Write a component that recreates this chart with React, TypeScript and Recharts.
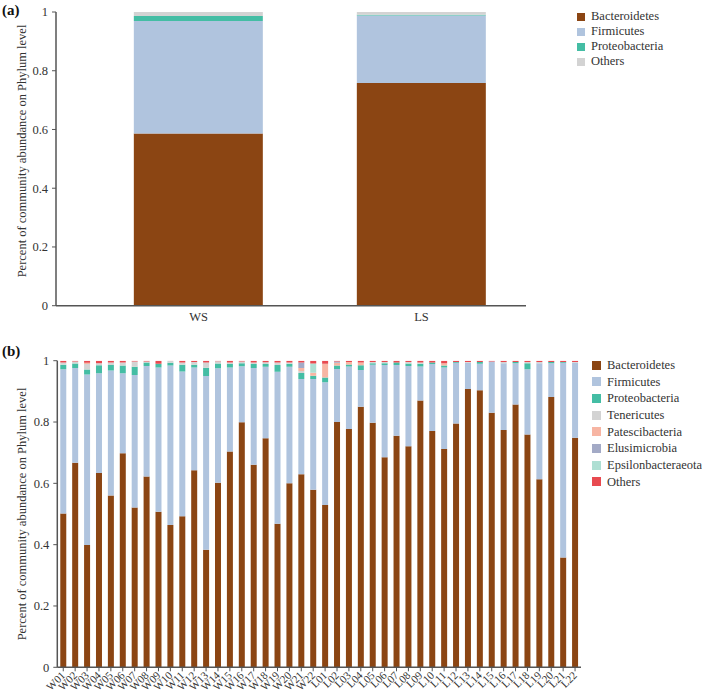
import { BarChart, Bar, XAxis, YAxis, Legend } from "recharts";

const FONT = '"Liberation Serif", Tinos, "Times New Roman", Times, "DejaVu Serif", serif';
const INK = "#333";
const AXIS = "#555";

// (a) season means
const seasons = ["WS", "LS"];
const seasonBacteroidetes = [0.586, 0.758];
const seasonFirmicutes = [0.383, 0.23];
const seasonProteobacteria = [0.017, 0.003];
const seasonOthers = [0.014, 0.009];

// (b) individual samples
const samples = [
  "W01", "W02", "W03", "W04", "W05", "W06", "W07", "W08", "W09", "W10", "W11",
  "W12", "W13", "W14", "W15", "W16", "W17", "W18", "W19", "W20", "W21", "W22",
  "L01", "L02", "L03", "L04", "L05", "L06", "L07", "L08", "L09", "L10", "L11",
  "L12", "L13", "L14", "L15", "L16", "L17", "L18", "L19", "L20", "L21", "L22",
];
const bacteroidetes = [
  0.502, 0.667, 0.399, 0.634, 0.56, 0.698, 0.521, 0.622, 0.507, 0.464, 0.493,
  0.643, 0.383, 0.602, 0.704, 0.799, 0.661, 0.747, 0.468, 0.6, 0.63, 0.579,
  0.529, 0.8, 0.777, 0.85, 0.798, 0.685, 0.755, 0.721, 0.87, 0.771, 0.712,
  0.795, 0.908, 0.904, 0.83, 0.774, 0.857, 0.759, 0.613, 0.882, 0.358, 0.749,
];
const firmicutes = [
  0.47, 0.309, 0.556, 0.325, 0.408, 0.261, 0.432, 0.361, 0.471, 0.52, 0.472,
  0.335, 0.567, 0.373, 0.274, 0.183, 0.315, 0.233, 0.496, 0.38, 0.31, 0.361,
  0.401, 0.173, 0.204, 0.12, 0.189, 0.301, 0.231, 0.262, 0.111, 0.218, 0.266,
  0.198, 0.085, 0.086, 0.167, 0.218, 0.135, 0.213, 0.379, 0.11, 0.635, 0.244,
];
const proteobacteria = [
  0.015, 0.015, 0.016, 0.026, 0.018, 0.025, 0.027, 0.011, 0.012, 0.009, 0.022,
  0.009, 0.027, 0.016, 0.011, 0.01, 0.013, 0.009, 0.022, 0.01, 0.02, 0.011,
  0.015, 0.011, 0.007, 0.015, 0.005, 0.006, 0.008, 0.008, 0.009, 0.005, 0.006,
  0.003, 0, 0.006, 0, 0, 0.004, 0.02, 0, 0.004, 0.003, 0,
];
const tenericutes = [
  0.007, 0.006, 0.018, 0.007, 0.008, 0.01, 0.017, 0.003, 0, 0.006, 0.007,
  0.009, 0.017, 0.007, 0.005, 0.005, 0.005, 0.006, 0.008, 0.004, 0.006, 0,
  0, 0, 0, 0, 0.004, 0.004, 0, 0.005, 0.004, 0, 0,
  0, 0.003, 0, 0, 0.004, 0, 0.004, 0.004, 0, 0, 0.003,
];
const patescibacteria = [
  0, 0, 0.004, 0, 0, 0, 0, 0, 0, 0, 0,
  0, 0, 0, 0, 0, 0, 0, 0, 0, 0.01, 0.01,
  0.045, 0.009, 0.008, 0.009, 0, 0, 0, 0, 0, 0, 0.008,
  0, 0, 0, 0, 0, 0, 0, 0, 0, 0, 0,
];
const elusimicrobia = [
  0, 0, 0, 0, 0, 0, 0, 0, 0, 0, 0,
  0, 0, 0, 0, 0, 0, 0, 0, 0, 0.018, 0,
  0, 0.004, 0, 0, 0, 0, 0, 0, 0, 0, 0,
  0, 0, 0, 0, 0, 0, 0, 0, 0, 0, 0,
];
const epsilonbacteraeota = [
  0, 0, 0, 0, 0, 0, 0, 0, 0, 0, 0,
  0, 0, 0, 0, 0, 0, 0, 0, 0, 0, 0.03,
  0, 0, 0, 0, 0, 0, 0, 0, 0, 0, 0,
  0, 0, 0, 0, 0, 0, 0, 0, 0, 0, 0,
];
const others = [
  0.006, 0.003, 0.007, 0.008, 0.006, 0.006, 0.003, 0.003, 0.01, 0.001, 0.006,
  0.004, 0.006, 0.002, 0.006, 0.003, 0.006, 0.005, 0.006, 0.006, 0.006, 0.009,
  0.01, 0.003, 0.004, 0.006, 0.004, 0.004, 0.006, 0.004, 0.006, 0.006, 0.008,
  0.004, 0.004, 0.004, 0.003, 0.004, 0.004, 0.004, 0.004, 0.004, 0.004, 0.004,
];

const yTicks = [0, 0.2, 0.4, 0.6, 0.8, 1];

const seriesA = [
  { key: "Bacteroidetes", color: "#8B4513", values: seasonBacteroidetes },
  { key: "Firmicutes", color: "#B0C4DE", values: seasonFirmicutes },
  { key: "Proteobacteria", color: "#44BDA4", values: seasonProteobacteria },
  { key: "Others", color: "#D3D3D3", values: seasonOthers },
];

const seriesB = [
  { key: "Bacteroidetes", color: "#8B4513", values: bacteroidetes },
  { key: "Firmicutes", color: "#B0C4DE", values: firmicutes },
  { key: "Proteobacteria", color: "#44BDA4", values: proteobacteria },
  { key: "Tenericutes", color: "#D3D3D3", values: tenericutes },
  { key: "Patescibacteria", color: "#F7B5A3", values: patescibacteria },
  { key: "Elusimicrobia", color: "#A3AAC6", values: elusimicrobia },
  { key: "Epsilonbacteraeota", color: "#AEDFD3", values: epsilonbacteraeota },
  { key: "Others", color: "#E84A50", values: others },
];

type Series = { key: string; color: string; values: number[] };

const toRows = (cats: string[], series: Series[]) =>
  cats.map((name, i) => {
    const row: Record<string, string | number> = { name };
    series.forEach((s) => (row[s.key] = s.values[i]));
    return row;
  });

const dataA = toRows(seasons, seriesA);
const dataB = toRows(samples, seriesB);

function SwatchLegend({ series, rowHeight, box }: { series: Series[]; rowHeight: number; box: number }) {
  return (
    <div style={{ fontFamily: FONT, fontSize: 12.5, color: INK }}>
      {series.map((s) => (
        <div key={s.key} style={{ display: "flex", alignItems: "center", height: rowHeight }}>
          <span style={{ width: box, height: box, background: s.color, marginRight: 6, flex: "none" }} />
          <span style={{ lineHeight: 1, whiteSpace: "nowrap" }}>{s.key}</span>
        </div>
      ))}
    </div>
  );
}

const AxisTitle = ({ cy }: { cy: number }) => (
  <text
    transform={`translate(22,${cy}) rotate(-90)`}
    textAnchor="middle"
    dominantBaseline="central"
    fontFamily={FONT}
    fontSize={12.5}
    fill={INK}
  >
    Percent of community abundance on Phylum level
  </text>
);

const SampleTick = ({ x, y, payload }: any) => (
  <text
    x={x}
    y={y}
    dy="0.35em"
    textAnchor="end"
    transform={`rotate(-45, ${x}, ${y})`}
    fontFamily={FONT}
    fontSize={11}
    fill={INK}
  >
    {payload.value}
  </text>
);

const tickStyle = { fontSize: 12.5, fill: INK, fontFamily: FONT };
const axisLine = { stroke: AXIS, strokeWidth: 1.5 };

const panelTag = (top: number): React.CSSProperties => ({
  position: "absolute",
  left: 2,
  top,
  fontFamily: FONT,
  fontWeight: "bold",
  fontSize: 15,
  color: "#111",
});

export default function App() {
  return (
    <div style={{ position: "absolute", left: 0, top: 0, width: 702, height: 696, background: "#fff", fontFamily: FONT }}>
      <div style={panelTag(2)}>(a)</div>
      <div style={{ position: "absolute", left: 0, top: 0 }}>
        <BarChart width={702} height={330} data={dataA} barCategoryGap="21%" margin={{ top: 12, right: 176, bottom: 0, left: 0 }}>
          <XAxis
            dataKey="name"
            height={24.3}
            padding={{ left: 31, right: -7 }}
            axisLine={axisLine}
            tickLine={false}
            tickSize={4}
            tickMargin={2}
            tick={tickStyle}
          />
          <YAxis
            width={56}
            domain={[0, 1]}
            allowDataOverflow
            ticks={yTicks}
            axisLine={axisLine}
            tickLine={{ stroke: AXIS }}
            tickSize={4}
            tickMargin={4}
            tick={tickStyle}
            label={<AxisTitle cy={151} />}
          />
          <Legend
            layout="vertical"
            align="center"
            verticalAlign="middle"
            wrapperStyle={{ left: 577, top: 9, width: 125 }}
            content={() => <SwatchLegend series={seriesA} rowHeight={15} box={8} />}
          />
          {seriesA.map((s) => (
            <Bar key={s.key} dataKey={s.key} stackId="a" fill={s.color} isAnimationActive={false} />
          ))}
        </BarChart>
      </div>

      <div style={panelTag(343)}>(b)</div>
      <div style={{ position: "absolute", left: 0, top: 330 }}>
        <BarChart width={702} height={366} data={dataB} barCategoryGap="25%" margin={{ top: 30.7, right: 121, bottom: 0, left: 0 }}>
          <XAxis
            dataKey="name"
            height={28.7}
            interval={0}
            axisLine={axisLine}
            tickLine={{ stroke: AXIS }}
            tickSize={4}
            tickMargin={2}
            tick={<SampleTick />}
          />
          <YAxis
            width={57.3}
            domain={[0, 1]}
            allowDataOverflow
            ticks={yTicks}
            axisLine={axisLine}
            tickLine={{ stroke: AXIS }}
            tickSize={4}
            tickMargin={4}
            tick={tickStyle}
            label={<AxisTitle cy={184} />}
          />
          <Legend
            layout="vertical"
            align="center"
            verticalAlign="middle"
            wrapperStyle={{ left: 592, top: 27, width: 110 }}
            content={() => <SwatchLegend series={seriesB} rowHeight={16.65} box={9} />}
          />
          {seriesB.map((s) => (
            <Bar key={s.key} dataKey={s.key} stackId="b" fill={s.color} isAnimationActive={false} />
          ))}
        </BarChart>
      </div>
    </div>
  );
}
